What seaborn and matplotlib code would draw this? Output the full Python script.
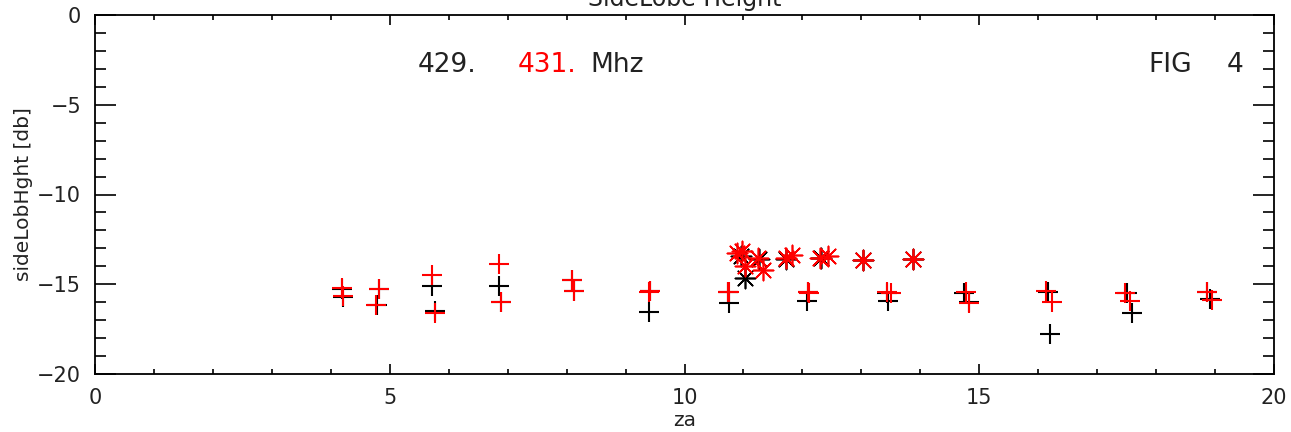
import matplotlib
matplotlib.use("Agg")
import matplotlib.pyplot as plt
import seaborn as sns
import pandas as pd
from matplotlib.ticker import MultipleLocator

# ---- data ----
za_black_plus = [4.21, 4.19, 4.82, 4.78, 5.71, 5.76, 6.86, 6.89, 8.09, 8.12,
                 9.39, 9.41, 10.76, 10.74, 12.08, 12.10, 13.46, 13.44, 14.83, 14.74,
                 16.17, 16.20, 17.59, 17.50, 18.92, 18.86]
db_black_plus = [-15.69, -15.25, -15.28, -16.16, -15.08, -16.47, -15.12, -16.00, -14.78, -15.40,
                 -16.53, -15.40, -16.06, -15.42, -15.92, -15.45, -15.93, -15.50, -15.97, -15.50,
                 -15.43, -17.77, -16.62, -15.50, -15.84, -15.45]
za_red_plus = [4.19, 4.21, 4.81, 4.77, 5.72, 5.76, 6.86, 6.89, 8.09, 8.12,
               9.41, 9.40, 10.74, 10.76, 12.10, 12.12, 13.43, 13.50, 14.78, 14.83,
               16.13, 16.23, 17.48, 17.56, 18.86, 18.94]
db_red_plus = [-15.19, -15.64, -15.28, -16.16, -14.48, -16.62, -13.85, -16.00, -14.76, -15.36,
               -15.38, -15.45, -15.41, -15.45, -15.41, -15.50, -15.45, -15.50, -15.45, -16.03,
               -15.38, -15.97, -15.47, -15.92, -15.41, -15.88]
za_black_star = [10.96, 11.03, 11.27, 11.72, 12.32, 13.03, 13.88]
db_black_star = [-13.43, -14.65, -13.60, -13.60, -13.55, -13.65, -13.62]
za_red_star = [10.89, 10.97, 11.25, 11.03, 11.34, 11.73, 11.82, 12.30, 12.44, 13.03, 13.88]
db_red_star = [-13.26, -13.16, -13.54, -14.00, -14.19, -13.54, -13.35, -13.52, -13.41, -13.65, -13.61]

title = "SideLobe Height"
xlabel = "za"
ylabel = "sideLobHght [db]"
freq_a = "429."
freq_b = "431."
freq_unit = "Mhz"
fig_label = "FIG"
fig_num = "4"

# ---- style ----
sns.set_style("ticks")
plt.rcParams['font.family'] = ['DejaVu Sans']
plt.rcParams['axes.unicode_minus'] = True

TXT = '#222222'
fig = plt.figure(figsize=(12.91, 4.32), dpi=100)
ax = fig.add_axes([95/1291, 58/432, (1274-95)/1291, (374-15)/432])

bp = pd.DataFrame({"za": za_black_plus, "db": db_black_plus})
rp = pd.DataFrame({"za": za_red_plus, "db": db_red_plus})
bs = pd.DataFrame({"za": za_black_star, "db": db_black_star})
rs = pd.DataFrame({"za": za_red_star, "db": db_red_star})

star = (8, 2, 0)
sns.scatterplot(data=bp, x="za", y="db", marker="+", color="black", s=190, linewidth=1.5, ax=ax, zorder=3)
sns.scatterplot(data=bs, x="za", y="db", marker=star, color="black", s=210, linewidth=1.2, ax=ax, zorder=3)
sns.scatterplot(data=rp, x="za", y="db", marker="+", color="#ff0000", s=190, linewidth=1.5, ax=ax, zorder=4)
sns.scatterplot(data=rs, x="za", y="db", marker=star, color="#ff0000", s=210, linewidth=1.2, ax=ax, zorder=4)

ax.set_xlim(0, 20)
ax.set_ylim(-20, 0)
ax.xaxis.set_major_locator(MultipleLocator(5))
ax.xaxis.set_minor_locator(MultipleLocator(1))
ax.yaxis.set_major_locator(MultipleLocator(5))
ax.yaxis.set_minor_locator(MultipleLocator(1))
ax.tick_params(axis='both', which='both', direction='in', top=True, right=True,
               color='black', width=1.2, labelsize=15, labelcolor=TXT)
ax.tick_params(axis='x', which='major', length=7, pad=10)
ax.tick_params(axis='x', which='minor', length=3.5)
ax.tick_params(axis='y', which='major', length=15, pad=10)
ax.tick_params(axis='y', which='minor', length=8)
for sp in ax.spines.values():
    sp.set_visible(True)
    sp.set_linewidth(1.3)
    sp.set_color('black')

ax.set_xlabel(xlabel, fontsize=14.5, color=TXT, labelpad=2)
ax.set_ylabel(ylabel, fontsize=14.5, color=TXT, labelpad=3)

def px(x, y):
    return (x/1291, 1 - y/432)

fig.text(*px(684.5, 6), title, ha='center', va='baseline', fontsize=17, color=TXT)
fig.text(*px(418, 72), freq_a, fontsize=19, color=TXT, ha='left', va='baseline')
fig.text(*px(518, 72), freq_b, fontsize=19, color='#ff0000', ha='left', va='baseline')
fig.text(*px(590, 72), freq_unit, fontsize=19, color=TXT, ha='left', va='baseline')
fig.text(*px(1148, 72), fig_label, fontsize=19, color=TXT, ha='left', va='baseline')
fig.text(*px(1243, 72), fig_num, fontsize=19, color=TXT, ha='right', va='baseline')

fig.savefig("out.png", dpi=100)
